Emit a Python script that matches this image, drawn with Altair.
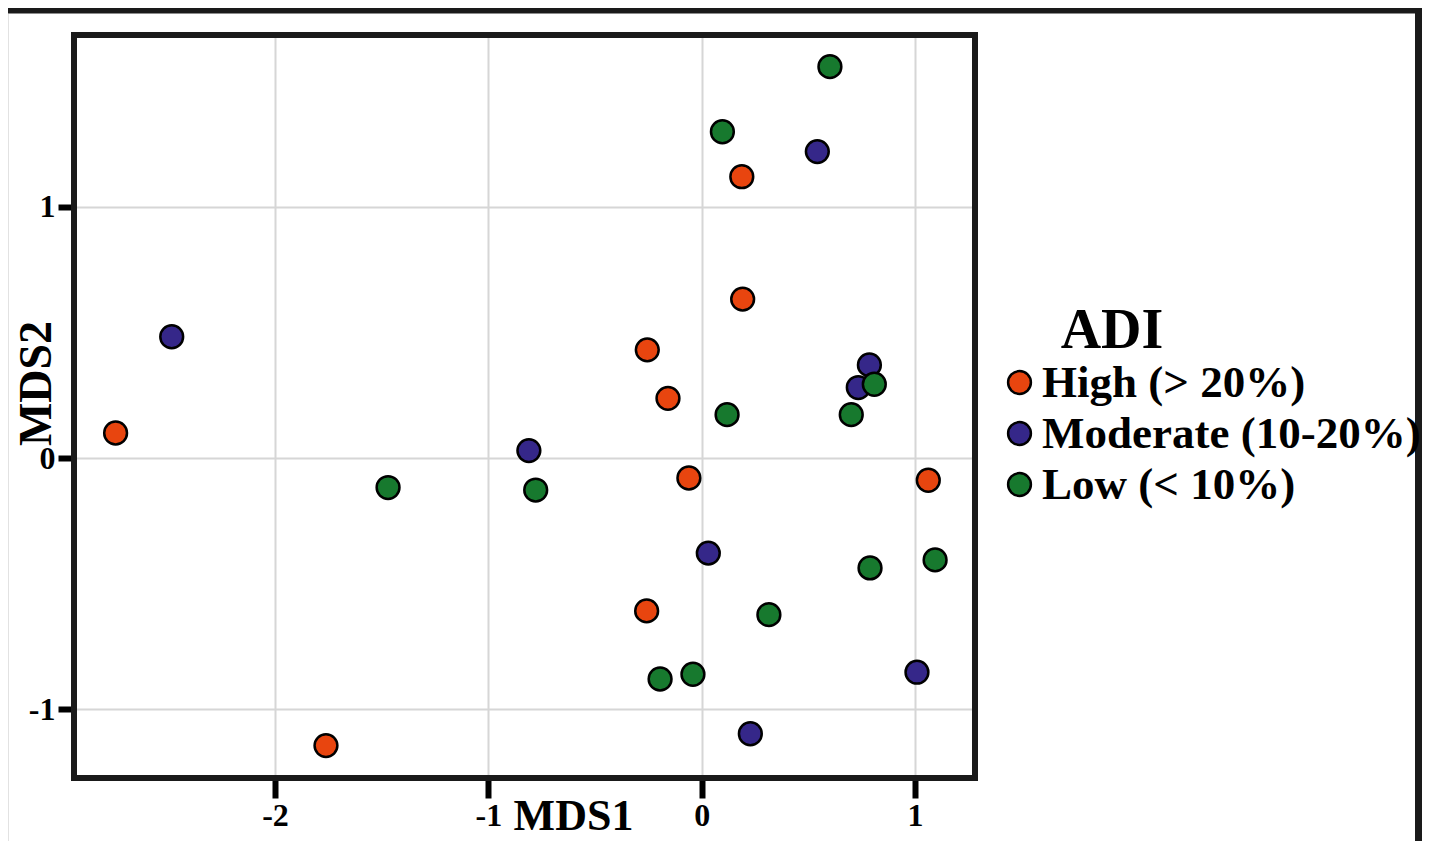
import altair as alt
import pandas as pd

# ---- data ----
groups = ["High (> 20%)", "Moderate (10-20%)", "Low (< 10%)"]
colors = ["#E8450F", "#352789", "#17792E"]

high_mds1 = [0.188, 0.192, -0.255, -0.158, -0.060, 1.062, -0.258, -2.747, -1.761]
high_mds2 = [1.120, 0.633, 0.431, 0.238, -0.079, -0.088, -0.608, 0.100, -1.144]

mod_mds1 = [0.542, 0.786, 0.734, 0.031, 1.009, 0.228, -2.484, -0.810]
mod_mds2 = [1.220, 0.371, 0.281, -0.378, -0.852, -1.097, 0.483, 0.030]

low_mds1 = [0.601, 0.097, 0.809, 0.119, 0.701, 0.789, 1.094, 0.315, -0.195, -0.041, -1.470, -0.778]
low_mds2 = [1.558, 1.299, 0.294, 0.173, 0.173, -0.437, -0.405, -0.623, -0.879, -0.860, -0.117, -0.127]

x_ticks = [-2, -1, 0, 1]
y_ticks = [-1, 0, 1]
x_domain = [-2.942, 1.281]
y_domain = [-1.273, 1.684]

rows = []
for g, xs, ys in zip(groups, [high_mds1, mod_mds1, low_mds1], [high_mds2, mod_mds2, low_mds2]):
    for a, b in zip(xs, ys):
        rows.append({"MDS1": a, "MDS2": b, "ADI": g})
df = pd.DataFrame(rows)
df["idx"] = range(len(df))

FONT = "Liberation Serif"
W, H = 901, 743

points = alt.Chart(df).mark_point(
    filled=True, shape="circle", size=520, stroke="black", strokeWidth=2.5, opacity=1
).encode(
    x=alt.X("MDS1:Q", scale=alt.Scale(domain=x_domain, nice=False, zero=False),
            axis=alt.Axis(values=x_ticks, title="MDS1", labelExpr="datum.value + ''",
                          tickSize=20, tickWidth=6, tickColor="black", labelPadding=2,
                          labelFontSize=32, labelFont=FONT, labelFontWeight="bold", labelColor="black",
                          labelBaseline="top",
                          titleFont=FONT, titleFontSize=44, titleFontWeight="bold", titleColor="black",
                          titleX=499, titleY=51, titleBaseline="alphabetic", titleAlign="center",
                          domain=False, gridColor="#d6d6d6", gridWidth=2)),
    y=alt.Y("MDS2:Q", scale=alt.Scale(domain=y_domain, nice=False, zero=False),
            axis=alt.Axis(values=y_ticks, title="MDS2", labelExpr="datum.value + ''",
                          tickSize=16, tickWidth=6, tickColor="black", labelPadding=3,
                          labelFontSize=32, labelFont=FONT, labelFontWeight="bold", labelColor="black",
                          titleFont=FONT, titleFontSize=46, titleFontWeight="bold", titleColor="black",
                          titleX=-24, titleY=348, titleAngle=270, titleBaseline="alphabetic",
                          titleAlign="center",
                          domain=False, gridColor="#d6d6d6", gridWidth=2)),
    color=alt.Color("ADI:N", scale=alt.Scale(domain=groups, range=colors),
                    legend=alt.Legend(title=None, orient="none", legendX=923, legendY=325,
                                      padding=0, labelFont=FONT, labelFontWeight="bold",
                                      labelFontSize=45, labelColor="black", labelOffset=0,
                                      labelLimit=0,
                                      symbolType="circle", symbolSize=520,
                                      symbolStrokeColor="black", symbolStrokeWidth=2.5,
                                      rowPadding=5)),
    order=alt.Order("idx:Q"),
)

frame = alt.Chart(pd.DataFrame({"k": [0]})).mark_rect(
    fill=None, stroke="#1a1a1a", strokeWidth=6, clip=False
).encode(x=alt.value(0), x2=alt.value(W), y=alt.value(0), y2=alt.value(H))

top_line = alt.Chart(pd.DataFrame({"k": [0]})).mark_rule(
    color="#1a1a1a", strokeWidth=7, clip=False
).encode(x=alt.value(-66), x2=alt.value(1348), y=alt.value(-25))

right_line = alt.Chart(pd.DataFrame({"k": [0]})).mark_rule(
    color="#1a1a1a", strokeWidth=7, clip=False
).encode(x=alt.value(1344.5), y=alt.value(-29), y2=alt.value(815))

left_line = alt.Chart(pd.DataFrame({"k": [0]})).mark_rule(
    color="#e2e2e2", strokeWidth=1, clip=False
).encode(x=alt.value(-65.5), y=alt.value(-21), y2=alt.value(815))

adi = alt.Chart(pd.DataFrame({"t": ["ADI"]})).mark_text(
    font=FONT, fontWeight="bold", fontSize=56, color="black", align="center",
    baseline="alphabetic", clip=False
).encode(text="t:N", x=alt.value(1038), y=alt.value(313))

chart = alt.layer(points, frame, top_line, right_line, left_line, adi).properties(
    width=W, height=H,
    padding={"left": 66, "top": 27, "right": 447, "bottom": 63},
    autosize=alt.AutoSizeParams(type="none"),
).configure_view(stroke=None)

chart.save("out.html", embed_options={"renderer": "svg", "actions": False})
